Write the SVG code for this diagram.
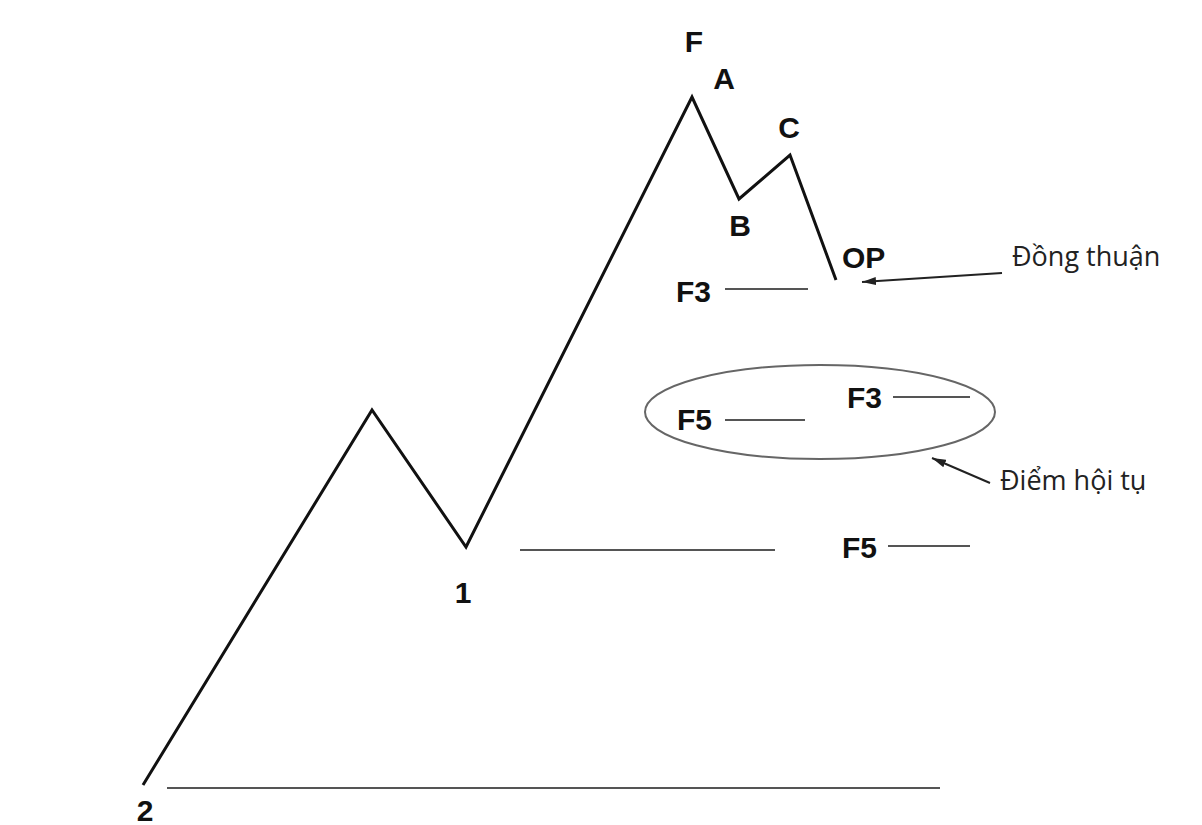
<svg xmlns="http://www.w3.org/2000/svg" width="1202" height="825" viewBox="0 0 1202 825">
<style>
.lbl{font-family:"Liberation Sans",Arial,sans-serif;font-weight:bold;font-size:30px;fill:#111}
.note{font-family:"Open Sans","Noto Sans",sans-serif;font-size:27px;fill:#222}
.lvl{stroke:#555;stroke-width:2.2;fill:none}
</style>
<defs>
<marker id="ah" markerWidth="14" markerHeight="8" refX="14" refY="4" orient="auto" markerUnits="userSpaceOnUse">
<path d="M0,0 L14,4 L0,8 Z" fill="#222"/>
</marker>
</defs>
<rect width="1202" height="825" fill="#fff"/>
<g id="wave">
<polyline points="143,785 372,410 466,547 692,97 739,199 790,155 836,280" fill="none" stroke="#111" stroke-width="3" stroke-linejoin="miter"/>
</g>
<g id="levels">
<line class="lvl" x1="725" y1="289" x2="808" y2="289"/>
<line class="lvl" x1="725" y1="420" x2="805" y2="420"/>
<line class="lvl" x1="893" y1="397" x2="970" y2="397"/>
<line class="lvl" x1="520" y1="550" x2="775" y2="550"/>
<line class="lvl" x1="888" y1="546" x2="970" y2="546"/>
<line class="lvl" x1="167" y1="788" x2="940" y2="788" stroke-width="3"/>
</g>
<g id="zone">
<ellipse cx="820" cy="412" rx="175" ry="47" fill="none" stroke="#666" stroke-width="2"/>
</g>
<g id="connectors">
<line x1="1002" y1="273" x2="862" y2="282" stroke="#222" stroke-width="2" marker-end="url(#ah)"/>
<line x1="990" y1="483" x2="932" y2="458" stroke="#222" stroke-width="2" marker-end="url(#ah)"/>
</g>
<g id="labels">
<text class="lbl" x="694" y="52" text-anchor="middle">F</text>
<text class="lbl" x="724" y="89" text-anchor="middle">A</text>
<text class="lbl" x="789" y="138" text-anchor="middle">C</text>
<text class="lbl" x="740" y="236" text-anchor="middle">B</text>
<text class="lbl" x="842" y="268">OP</text>
<text class="lbl" x="676" y="302">F3</text>
<text class="lbl" x="677" y="430">F5</text>
<text class="lbl" x="847" y="408">F3</text>
<text class="lbl" x="842" y="558">F5</text>
<text class="lbl" x="463" y="603" text-anchor="middle">1</text>
<text class="lbl" x="145" y="821" text-anchor="middle">2</text>
<text class="note" x="1012" y="266">Đồng thuận</text>
<text class="note" x="1000" y="490">Điểm hội tụ</text>
</g>
</svg>
